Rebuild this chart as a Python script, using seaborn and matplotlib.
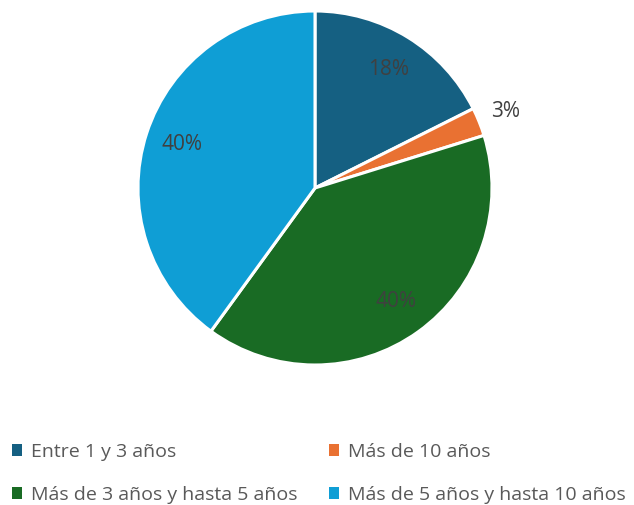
import numpy as np
import matplotlib
matplotlib.use("Agg")
import matplotlib.pyplot as plt
from matplotlib.patches import Patch
import seaborn as sns

categories = ["Entre 1 y 3 años", "Más de 10 años",
              "Más de 3 años y hasta 5 años", "Más de 5 años y hasta 10 años"]
shares = [17.6, 2.6, 39.8, 40.0]
colors = ["#156082", "#E97132", "#196B24", "#0F9ED5"]

sns.set_theme(style="white")
plt.rcParams["font.family"] = ["Open Sans", "DejaVu Sans"]

W, H = 634, 505
fig = plt.figure(figsize=(W / 100, H / 100), dpi=100)
cx, cy, r = 315, 188, 177
ax = fig.add_axes([(cx - r) / W, (H - cy - r) / H, 2 * r / W, 2 * r / H])

wedges, _ = ax.pie(shares, colors=colors, startangle=90, counterclock=False,
                   wedgeprops=dict(edgecolor="white", linewidth=2.2))
ax.set_xlim(-1, 1)
ax.set_ylim(-1, 1)
ax.set_aspect("equal")
ax.axis("off")

total = sum(shares)
for w, v in zip(wedges, shares):
    ang = np.deg2rad((w.theta1 + w.theta2) / 2)
    dist = 0.79 if v / total > 0.05 else 1.16
    ax.text(dist * np.cos(ang), dist * np.sin(ang), f"{v / total * 100:.0f}%",
            ha="center", va="center", fontsize=15, color="#404040")

# legend reads row by row; matplotlib fills columns first
order = [0, 2, 1, 3]
handles = [Patch(facecolor=colors[i], edgecolor="none") for i in order]
labels = [categories[i] for i in order]
fig.legend(handles, labels, ncol=2, loc="lower left",
           bbox_to_anchor=(0.0, -0.021), frameon=False, fontsize=14,
           labelcolor="#595959", handlelength=0.55, handleheight=0.55,
           handletextpad=0.45, columnspacing=1.6, labelspacing=1.28,
           borderaxespad=0.2)

fig.savefig("out.png", dpi=100, facecolor="white")
